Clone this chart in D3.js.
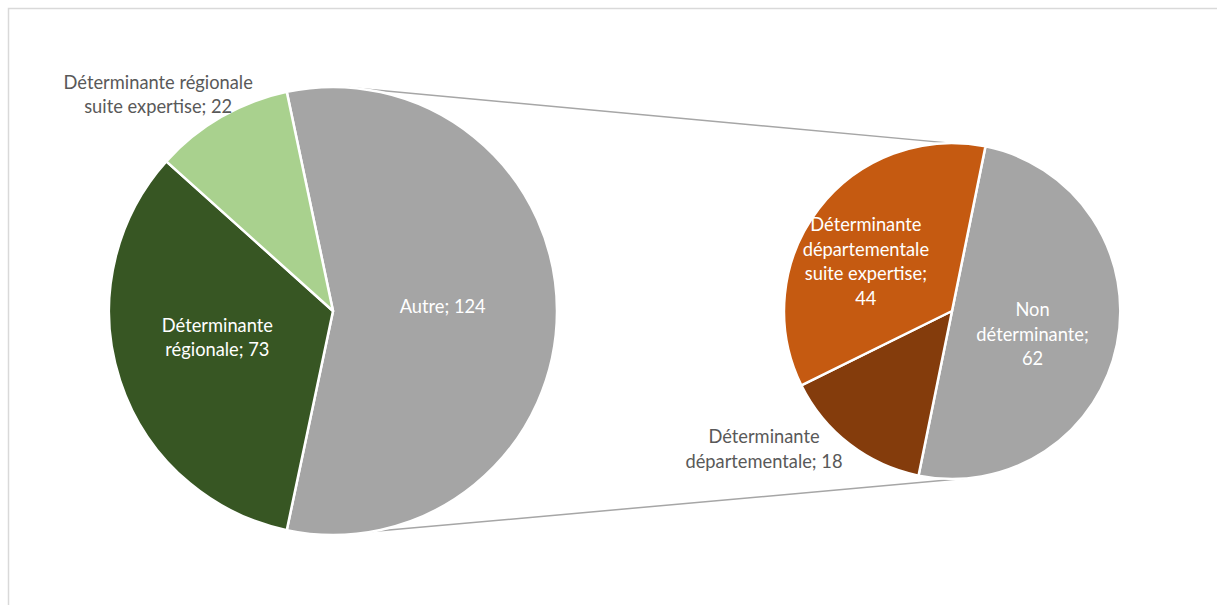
<!DOCTYPE html>
<html>
<head>
<meta charset="utf-8">
<script src="https://cdn.jsdelivr.net/npm/d3@7"></script>
<style>
  body { margin: 0; background: #fff; }
  text { font-family: Lato, "Open Sans", sans-serif; font-size: 18.3px; }
</style>
</head>
<body>
<div id="chart"></div>
<script>
// Main pie data
const mainLabels = ["Autre", "Déterminante régionale", "Déterminante régionale suite expertise"];
const mainValues = [124, 73, 22];
const mainColors = ["#A5A5A5", "#375623", "#A9D18E"];

// Secondary pie data (breakdown of "Autre")
const subLabels = ["Non déterminante", "Déterminante départementale", "Déterminante départementale suite expertise"];
const subValues = [62, 18, 44];
const subColors = ["#A5A5A5", "#843C0C", "#C55A11"];

// label text lines (as shown in the chart)
const mainLines = [["Autre; 124"], ["Déterminante", "régionale; 73"], ["Déterminante régionale", "suite expertise; 22"]];
const subLines = [["Non", "déterminante;", "62"], ["Déterminante", "départementale; 18"], ["Déterminante", "départementale", "suite expertise;", "44"]];

const dims = { width: 1217, height: 605 };
const mainPie = { x: 333, y: 311, r: 224 };
const subPie = { x: 952, y: 311, r: 168 };

// label placement: radius factor, angle shift (deg), fill
const mainLabelPos = [
  { k: 0.49, da: -2, fill: "#fff" },
  { k: 0.53, da: 5, fill: "#fff" },
  { k: 1.24, da: -9, fill: "#595959" }
];
const subLabelPos = [
  { k: 0.50, da: 5, fill: "#fff" },
  { k: 1.39, da: 16, fill: "#595959" },
  { k: 0.59, da: -8, fill: "#fff" }
];

const svg = d3.select("#chart")
  .append("svg")
  .attr("width", dims.width)
  .attr("height", dims.height);

// chart area border (only left/top visible)
svg.append("rect")
  .attr("x", 8.5).attr("y", 8.5)
  .attr("width", dims.width + 20).attr("height", dims.height + 20)
  .attr("fill", "none")
  .attr("stroke", "#D9D9D9")
  .attr("stroke-width", 1.5);

const rad = a => a * Math.PI / 180;
const total = d3.sum(mainValues);
const otherSpan = mainValues[0] / total * 2 * Math.PI;

const mainGen = d3.pie().sort(null)
  .startAngle(Math.PI / 2 - otherSpan / 2)
  .endAngle(Math.PI / 2 - otherSpan / 2 + 2 * Math.PI);
const subGen = d3.pie().sort(null)
  .startAngle(rad(11.5))
  .endAngle(rad(11.5) + 2 * Math.PI);

const pt = (c, a, k) => [c.x + c.r * k * Math.sin(a), c.y - c.r * k * Math.cos(a)];

// connector lines
const connectors = [
  [pt(mainPie, rad(4), 1), pt(subPie, rad(11.5), 1)],
  [pt(mainPie, rad(170), 1), pt(subPie, rad(176), 1)]
];
svg.selectAll("line.conn")
  .data(connectors)
  .enter()
  .append("line")
  .attr("class", "conn")
  .attr("x1", d => d[0][0]).attr("y1", d => d[0][1])
  .attr("x2", d => d[1][0]).attr("y2", d => d[1][1])
  .attr("stroke", "#A6A6A6")
  .attr("stroke-width", 1.5);

const drawPie = (c, values, colors, gen, lines, pos) => {
  const g = svg.append("g").attr("transform", `translate(${c.x}, ${c.y})`);
  const arcGen = d3.arc().innerRadius(0).outerRadius(c.r);
  const arcs = gen(values);

  g.selectAll("path")
    .data(arcs)
    .enter()
    .append("path")
    .attr("d", arcGen)
    .attr("fill", (d, i) => colors[i])
    .attr("stroke", "#fff")
    .attr("stroke-width", 2.5)
    .attr("stroke-linejoin", "round");

  arcs.forEach((d, i) => {
    const mid = (d.startAngle + d.endAngle) / 2 + rad(pos[i].da);
    const lx = c.r * pos[i].k * Math.sin(mid);
    const ly = -c.r * pos[i].k * Math.cos(mid);
    const ls = lines[i];
    const lh = 24.5;
    const t = g.append("text")
      .attr("text-anchor", "middle")
      .attr("fill", pos[i].fill);
    ls.forEach((s, j) => {
      t.append("tspan")
        .attr("x", lx)
        .attr("y", ly + (j - (ls.length - 1) / 2) * lh + 6)
        .text(s);
    });
  });
};

drawPie(mainPie, mainValues, mainColors, mainGen, mainLines, mainLabelPos);
drawPie(subPie, subValues, subColors, subGen, subLines, subLabelPos);
</script>
</body>
</html>
